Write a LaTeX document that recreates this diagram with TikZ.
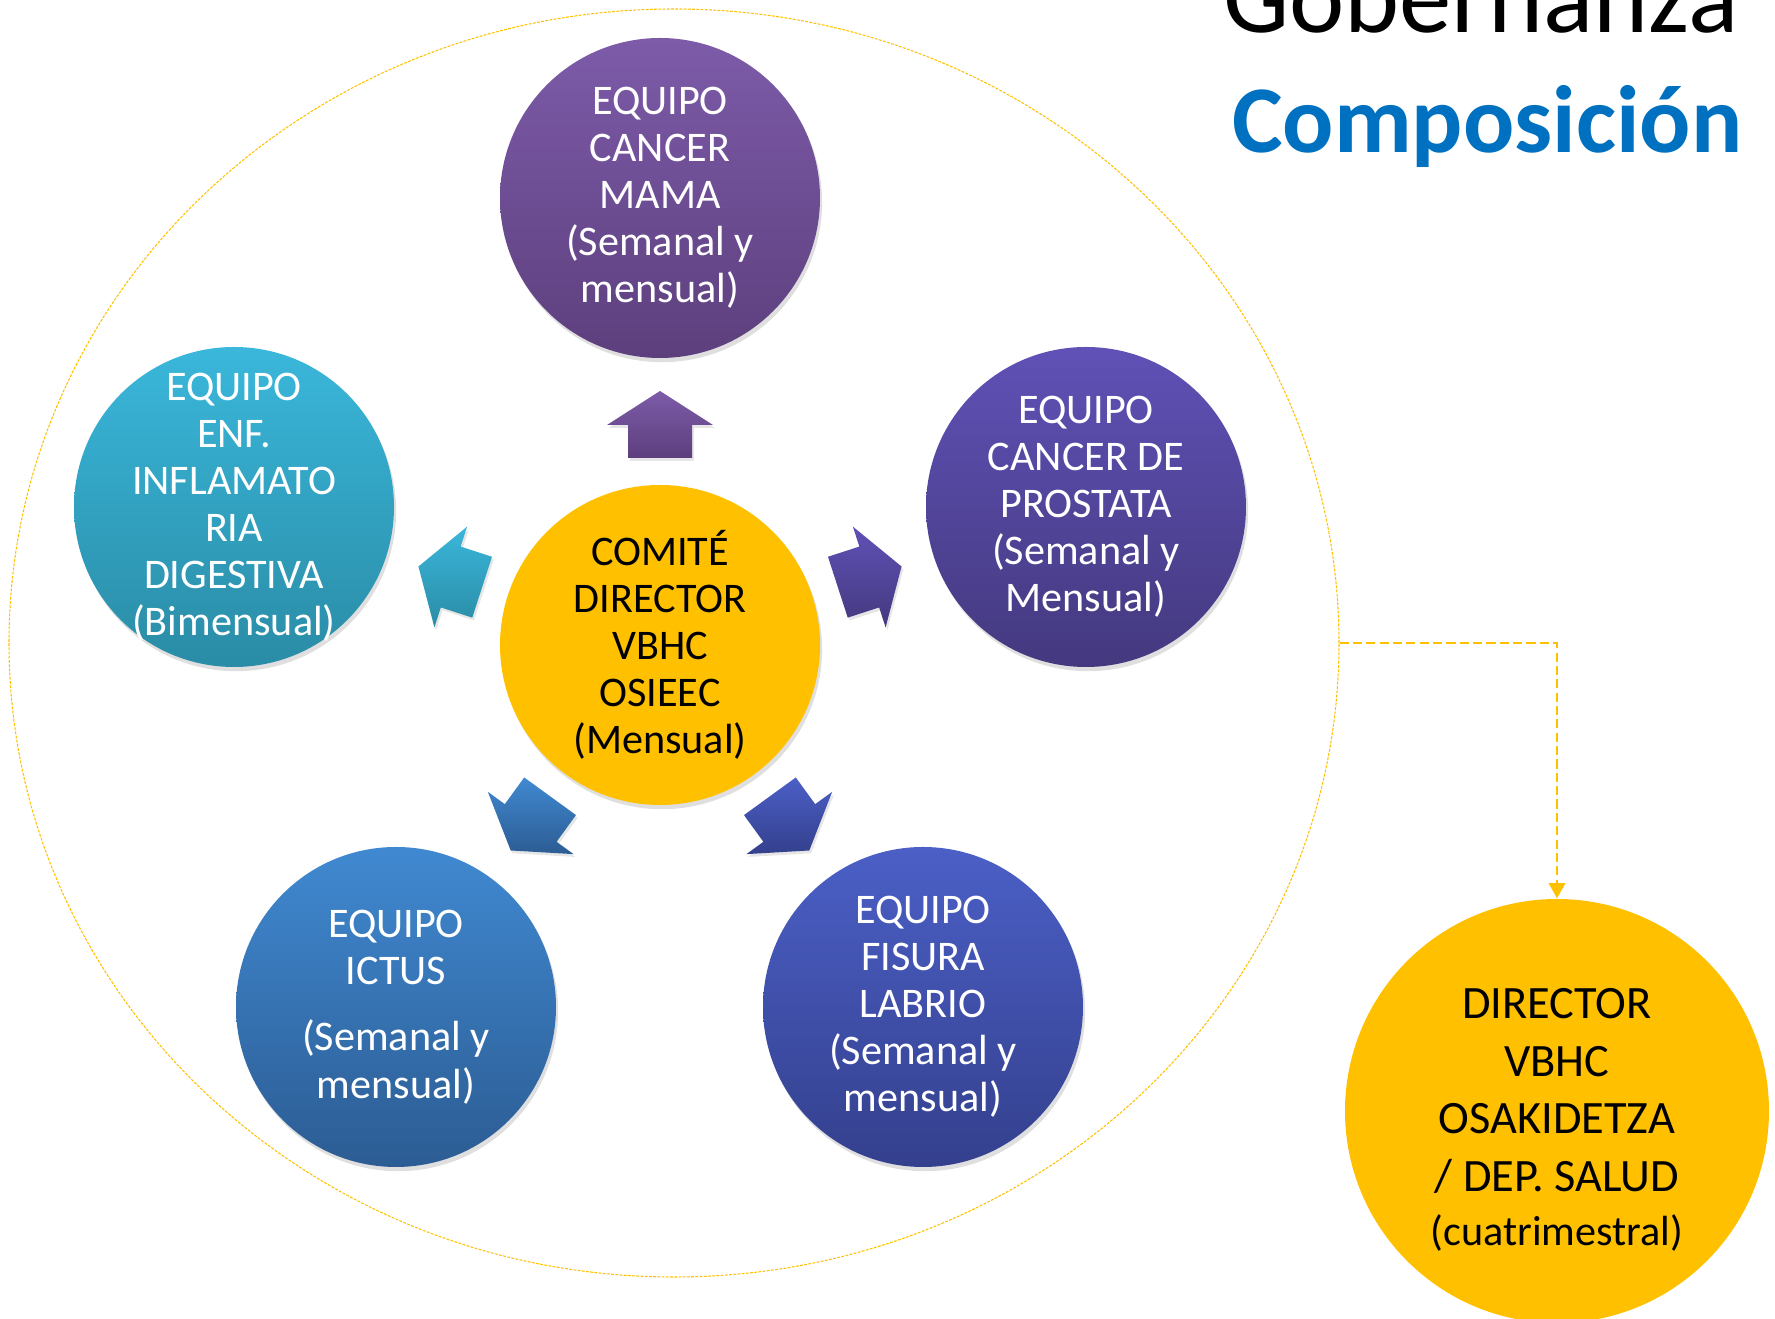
\documentclass[tikz,border=0pt]{standalone}
\usepackage{fontspec}
\setmainfont{Carlito}
\usetikzlibrary{shapes.geometric,arrows.meta,calc,shadows}

\definecolor{oro}{HTML}{FFC000}
\definecolor{azultitulo}{HTML}{0070C0}
\definecolor{mamaA}{HTML}{7D5BA9}
\definecolor{mamaB}{HTML}{5D3F7D}
\definecolor{prosA}{HTML}{5F51B6}
\definecolor{prosB}{HTML}{44397F}
\definecolor{fisA}{HTML}{4B5FC6}
\definecolor{fisB}{HTML}{34408D}
\definecolor{ictA}{HTML}{4089D1}
\definecolor{ictB}{HTML}{2C5C93}
\definecolor{infA}{HTML}{3AB7DB}
\definecolor{infB}{HTML}{2A8CA6}

\begin{document}
\begin{tikzpicture}[
	x=0.1mm, y=0.1mm,
	equipo/.style={circle, minimum size=32mm, inner sep=0pt, align=center, text=white,
		font=\fontsize{12}{13.4}\selectfont,
		drop shadow={shadow xshift=0.6pt, shadow yshift=-1.2pt, opacity=0.25}},
	central/.style={circle, minimum size=32mm, inner sep=0pt, align=center, fill=oro,
		font=\fontsize{12}{13.4}\selectfont,
		drop shadow={shadow xshift=0.6pt, shadow yshift=-1.2pt, opacity=0.25}},
	director/.style={circle, minimum size=42.4mm, inner sep=0pt, fill=oro},
	textodir/.style={align=center, inner sep=0pt, font=\fontsize{13.2}{16.4}\selectfont},
	marco/.style={ellipse, draw=oro, dash pattern=on 0.8pt off 0.4pt, line width=0.3pt,
		inner sep=0pt, minimum width=133mm, minimum height=126.8mm},
	enlace/.style={draw=oro, line width=0.8pt, dash pattern=on 2.6pt off 1.2pt,
		-{Triangle[width=4.6pt, length=4.3pt]}},
	titulo/.style={anchor=base east, inner sep=0pt}
]
\clip (0,0) rectangle (1775,-1319);

% Group outline
\node[marco] (grupo) at (674,-643) {};

% Titles
\node[titulo, font=\fontsize{29.8}{31}\selectfont] (gobernanza) at (1739,-33) {Gobernanza};
\node[titulo, font=\fontsize{27.2}{29}\selectfont\bfseries, text=azultitulo] (composicion)
	at (1743,-153) {Composición};

% Team circles
\node[central] (comite) at (660,-645) {COMITÉ\\DIRECTOR\\VBHC\\OSIEEC\\(Mensual)};
\node[equipo, top color=mamaA, bottom color=mamaB] (mama) at (660,-198)
	{EQUIPO\\CANCER\\MAMA\\(Semanal y\\mensual)};
\node[equipo, top color=prosA, bottom color=prosB] (prostata) at (1086,-507)
	{EQUIPO\\CANCER DE\\PROSTATA\\(Semanal y\\Mensual)};
\node[equipo, top color=fisA, bottom color=fisB] (fisura) at (923,-1007)
	{EQUIPO\\FISURA\\LABRIO\\(Semanal y\\mensual)};
\node[equipo, top color=ictA, bottom color=ictB] (ictus) at (396,-1007)
	{EQUIPO\\ICTUS\\[5.5pt](Semanal y\\mensual)};
\node[equipo, top color=infA, bottom color=infB, inner sep=-12pt] (inflamatoria) at (234,-507)
	{EQUIPO\\ENF.\\INFLAMATO\\RIA\\DIGESTIVA\\(Bimensual)};

% Block arrows out of the committee
\foreach \a/\ca/\cb in {90/mamaA/mamaB, 18/prosA/prosB, -54/fisA/fisB, -126/ictA/ictB, 162/infA/infB}
	\shade[top color=\ca, bottom color=\cb,
		drop shadow={shadow xshift=0.5pt, shadow yshift=-0.8pt, opacity=0.2}]
		($(comite)+(\a:187)+(\a-90:32)$) -- ($(comite)+(\a:220)+(\a-90:32)$)
		-- ($(comite)+(\a:220)+(\a-90:53)$) -- ($(comite)+(\a:254)$)
		-- ($(comite)+(\a:220)+(\a+90:53)$) -- ($(comite)+(\a:220)+(\a+90:32)$)
		-- ($(comite)+(\a:187)+(\a+90:32)$) -- cycle;

% Director
\node[director] (direccion) at (1557,-1111) {};
\node[textodir] (textodir) at (1557,-1120)
	{DIRECTOR\\VBHC\\OSAKIDETZA\\/ DEP. SALUD\\[-1pt]{\fontsize{12}{14}\selectfont(cuatrimestral)}};
\draw[enlace] (grupo.east) -| (direccion.north);

\end{tikzpicture}
\end{document}
